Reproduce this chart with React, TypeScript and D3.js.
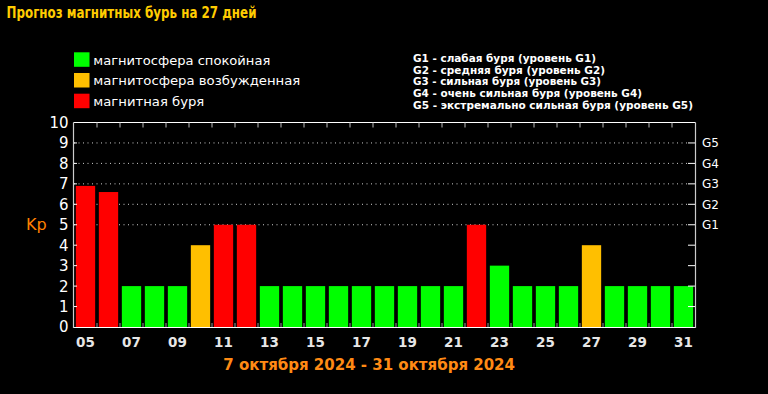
import React from "react";
import * as d3 from "d3";

const title = "Прогноз магнитных бурь на 27 дней";
const days = ["05","06","07","08","09","10","11","12","13","14","15","16","17","18","19","20","21","22","23","24","25","26","27","28","29","30","31"];
const kpValues = [6.9,6.6,2,2,2,4,5,5,2,2,2,2,2,2,2,2,2,5,3,2,2,2,4,2,2,2,2];
const yTicks = [0,1,2,3,4,5,6,7,8,9,10];
const gLevels = [{ g: "G1", kp: 5 }, { g: "G2", kp: 6 }, { g: "G3", kp: 7 }, { g: "G4", kp: 8 }, { g: "G5", kp: 9 }];
const legendItems = [
  { label: "магнитосфера спокойная", color: "#00ff00", w: 177 },
  { label: "магнитосфера возбужденная", color: "#ffbf00", w: 207 },
  { label: "магнитная буря", color: "#ff0000", w: 111 },
];
const gLegend = [
  { text: "G1 - слабая буря (уровень G1)", w: 183 },
  { text: "G2 - средняя буря (уровень G2)", w: 192 },
  { text: "G3 - сильная буря (уровень G3)", w: 188 },
  { text: "G4 - очень сильная буря (уровень G4)", w: 229 },
  { text: "G5 - экстремально сильная буря (уровень G5)", w: 280 },
];
const dateRange = "7 октября 2024 - 31 октября 2024";

function colorFor(v: number) {
  if (v >= 5) return "#ff0000";
  if (v >= 4) return "#ffbf00";
  return "#00ff00";
}

export default function App() {
  const W = 768, H = 394;
  const left = 74, right = 695, top = 122.5, bottom = 327;
  const x = d3.scaleBand<string>().domain(days).range([left, right]).paddingInner(0.16).paddingOuter(0.08);
  const xb = d3.scaleBand<string>().domain(days).range([left, right]);
  const y = d3.scaleLinear().domain([0, 10]).range([bottom, top]);
  const font = "'DejaVu Sans', sans-serif";
  const boundaries = days.slice(1).map((d) => xb(d)!);

  return (
    <svg width={W} height={H} style={{ position: "absolute", left: 0, top: 0, display: "block" }} fontFamily={font}>
      <rect x={0} y={0} width={W} height={H} fill="#000" />
      <text x={6.5} y={18.3} fill="#ffcc00" fontSize={15} fontWeight="bold" textLength={250} lengthAdjust="spacingAndGlyphs">{title}</text>

      {legendItems.map((it, i) => (
        <g key={it.label}>
          <rect x={74} y={52.3 + i * 20.7} width={15.5} height={14.5} fill={it.color} />
          <text x={93.3} y={64.5 + i * 20.7} fill="#fff" fontSize={13} textLength={it.w} lengthAdjust="spacingAndGlyphs">{it.label}</text>
        </g>
      ))}

      {gLegend.map((it, i) => (
        <text key={it.text} x={413} y={62 + i * 11.7} fill="#fff" fontSize={11} fontWeight="bold" textLength={it.w} lengthAdjust="spacingAndGlyphs">{it.text}</text>
      ))}

      {/* grid dotted */}
      {[5, 6, 7, 8, 9].map((v) => (
        <line key={"g" + v} x1={left} x2={right - 7} y1={y(v)} y2={y(v)} stroke="#ccc" strokeWidth={1} strokeDasharray="1,3.5" />
      ))}

      {/* bars */}
      {days.map((d, i) => (
        <rect key={d} x={x(d)!} y={y(kpValues[i])} width={x.bandwidth()} height={bottom - y(kpValues[i])} fill={colorFor(kpValues[i])} />
      ))}

      {/* frame */}
      <line x1={left - 0.5} x2={right + 0.5} y1={top} y2={top} stroke="#fff" strokeWidth={1.2} />
      <line x1={left - 0.5} x2={right + 0.5} y1={bottom + 0.5} y2={bottom + 0.5} stroke="#fff" strokeWidth={1.2} />
      <line x1={left - 0.5} x2={left - 0.5} y1={top} y2={bottom + 1} stroke="#ccc" strokeWidth={1.2} />
      <line x1={right + 0.5} x2={right + 0.5} y1={top} y2={bottom + 1} stroke="#ccc" strokeWidth={1.2} />

      {/* boundary ticks */}
      {boundaries.map((bx, i) => (
        <g key={"b" + i}>
          <line x1={bx} x2={bx} y1={top} y2={top + 5} stroke="#bbb" strokeWidth={1} />
          <line x1={bx} x2={bx} y1={bottom} y2={bottom - 4} stroke="#999" strokeWidth={1} />
        </g>
      ))}

      {/* y ticks */}
      {yTicks.slice(1, 10).map((v) => (
        <g key={"t" + v}>
          <line x1={right} x2={right - 7} y1={y(v)} y2={y(v)} stroke="#fff" strokeWidth={1} />
          <line x1={left} x2={left + 3} y1={y(v)} y2={y(v)} stroke="#fff" strokeWidth={1} />
        </g>
      ))}

      {/* y labels */}
      {yTicks.map((v) => (
        <text key={"yl" + v} x={68.5} y={y(v) + 5.4} fill="#fff" fontSize={15} textAnchor="end">{v}</text>
      ))}
      <text x={26} y={230} fill="#ff8000" fontSize={16}>Kp</text>

      {/* G labels */}
      {gLevels.map((g) => (
        <text key={g.g} x={702} y={y(g.kp) + 4.3} fill="#fff" fontSize={12}>{g.g}</text>
      ))}

      {/* x labels */}
      {days.map((d, i) => i % 2 === 0 ? (
        <text key={"xl" + d} x={x(d)! + x.bandwidth() / 2} y={347.3} fill="#e6e6e6" fontSize={13.5} fontWeight="bold" textAnchor="middle">{d}</text>
      ) : null)}

      <text x={223.3} y={370} fill="#ff8a14" fontSize={15} fontWeight="bold" textLength={291.7} lengthAdjust="spacingAndGlyphs">{dateRange}</text>
    </svg>
  );
}
